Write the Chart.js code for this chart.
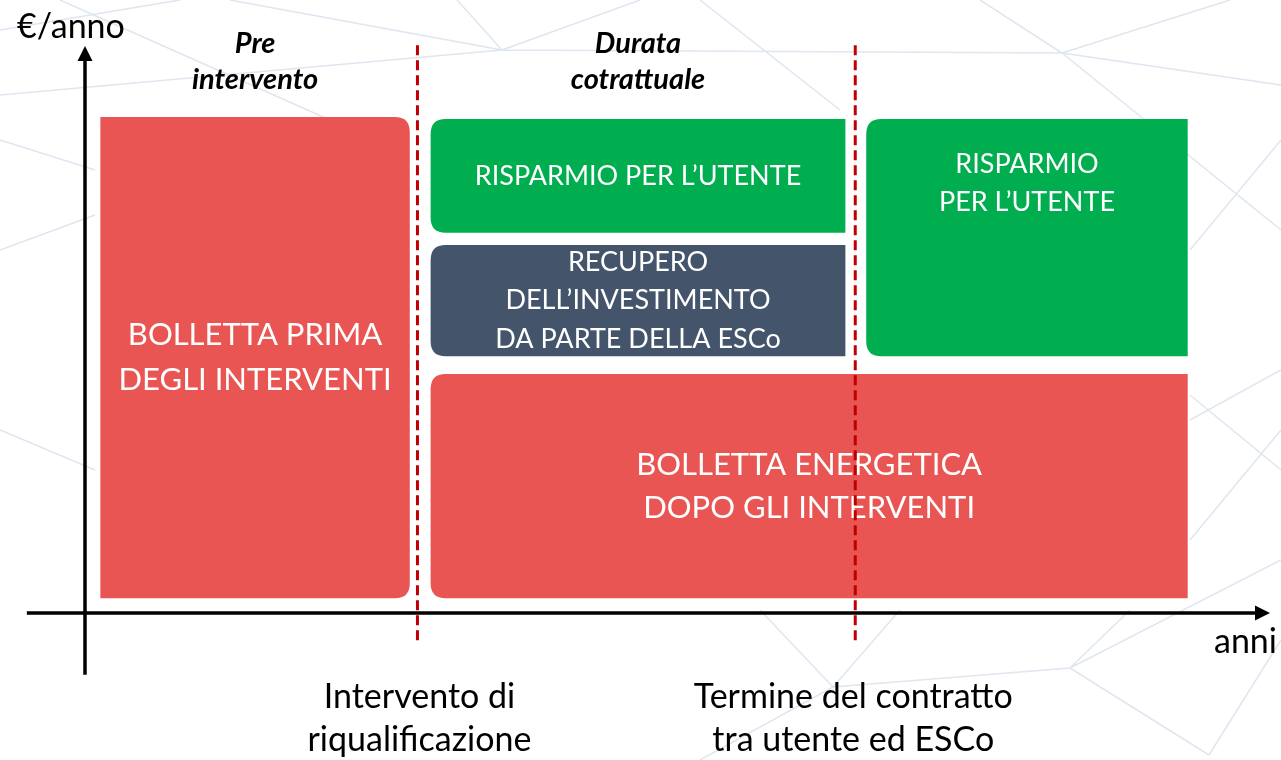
<!DOCTYPE html>
<html lang="it">
<head>
<meta charset="utf-8">
<title>Bolletta e risparmio con ESCo</title>
<script src="https://cdn.jsdelivr.net/npm/chart.js@4.4.0/dist/chart.umd.min.js"></script>
<style>
  html, body { margin: 0; padding: 0; background: #fff; }
  #grafico { display: block; }
</style>
</head>
<body>
<canvas id="grafico" width="1281" height="760"></canvas>
<script>
// Dati: asse x in anni, asse y in €/anno (scala indicativa, bolletta iniziale = 100)
const titoloY = '€/anno';
const titoloX = 'anni';
const maxAnni = 10.8;
const maxEuro = 115;

const eventi = [['Intervento di', 'riqualificazione'], ['Termine del contratto', 'tra utente ed ESCo']];
const anniEventi = [3.03, 7.02];

const periodi = [['Pre', 'intervento'], ['Durata', 'cotrattuale']];

const voci = [
    ['BOLLETTA PRIMA', 'DEGLI INTERVENTI'],
    ['RISPARMIO PER L’UTENTE'],
    ['RECUPERO', 'DELL’INVESTIMENTO', 'DA PARTE DELLA ESCo'],
    ['RISPARMIO', 'PER L’UTENTE'],
    ['BOLLETTA ENERGETICA', 'DOPO GLI INTERVENTI']
];
const inizio = [0.14, 3.15, 3.15, 7.12, 3.15];
const fine = [2.96, 6.93, 6.93, 10.05, 10.05];
const minimo = [3, 77, 52, 52, 3];
const massimo = [100.4, 100, 74.5, 100, 48.4];

// Stili
const rosso = '#E85552';
const verde = '#00AE50';
const blu = '#44546A';
const coloriVoci = [rosso, verde, blu, verde, rosso];
const raggio = 15;
const angoliVoci = [
    [0, raggio, raggio, 0],
    [raggio, 0, 0, raggio],
    [raggio, 0, 0, raggio],
    [raggio, 0, 0, raggio],
    [raggio, 0, 0, raggio]
];
const fontVoci = [31, 27, 27, 27, 31];
const interlineaVoci = [45, 38, 38.5, 38, 43];
const allineaVoci = ['center', 'center', 'center', 'top', 'center'];
const famiglia = 'Lato, "Open Sans", sans-serif';

// Sfondo decorativo a rete (solo ornamento)
const reteSfondo = [
    [0, 95, 502, 50], [502, 50, 457, 0], [502, 50, 640, 0], [502, 50, 1062, 53],
    [230, 0, 502, 50], [0, 30, 180, 0], [60, 0, 330, 120], [1062, 53, 1281, 85],
    [1062, 53, 980, 0], [1062, 53, 1230, 0], [1062, 53, 1281, 230], [700, 0, 840, 110],
    [1190, 250, 1281, 140], [1190, 420, 1281, 370], [1190, 540, 1281, 430], [1190, 395, 1281, 470],
    [833, 687, 1070, 668], [1070, 668, 1209, 755], [1070, 668, 1281, 560], [833, 687, 760, 610],
    [833, 687, 900, 610], [1209, 755, 1281, 640], [1070, 668, 1130, 610], [700, 760, 833, 687],
    [0, 250, 95, 215], [0, 430, 95, 470], [0, 140, 95, 170]
];

function rettangoloArrotondato(ctx, x, y, w, h, r) {
    const [tl, tr, br, bl] = r;
    ctx.beginPath();
    ctx.moveTo(x + tl, y);
    ctx.lineTo(x + w - tr, y);
    ctx.quadraticCurveTo(x + w, y, x + w, y + tr);
    ctx.lineTo(x + w, y + h - br);
    ctx.quadraticCurveTo(x + w, y + h, x + w - br, y + h);
    ctx.lineTo(x + bl, y + h);
    ctx.quadraticCurveTo(x, y + h, x, y + h - bl);
    ctx.lineTo(x, y + tl);
    ctx.quadraticCurveTo(x, y, x + tl, y);
    ctx.closePath();
}

function scriviRighe(ctx, righe, cx, cy, interlinea) {
    const y0 = cy - (righe.length - 1) * interlinea / 2;
    righe.forEach((riga, i) => ctx.fillText(riga, cx, y0 + i * interlinea));
}

// Rettangoli, assi ed etichette disegnati tramite le scale del grafico
const pluginSchema = {
    id: 'schema',
    beforeDraw(chart) {
        const ctx = chart.ctx;
        ctx.save();
        ctx.strokeStyle = 'rgba(196, 210, 228, 0.55)';
        ctx.lineWidth = 1.5;
        ctx.beginPath();
        reteSfondo.forEach(([a, b, c, d]) => {
            ctx.moveTo(a, b);
            ctx.lineTo(c, d);
        });
        ctx.stroke();
        ctx.restore();
    },
    beforeDatasetsDraw(chart) {
        const ctx = chart.ctx;
        const x = chart.scales.x;
        const y = chart.scales.y;
        ctx.save();

        // Rettangoli delle voci
        voci.forEach((righe, i) => {
            const x0 = x.getPixelForValue(inizio[i]);
            const x1 = x.getPixelForValue(fine[i]);
            const yTop = y.getPixelForValue(massimo[i]);
            const yBot = y.getPixelForValue(minimo[i]);
            ctx.fillStyle = coloriVoci[i];
            rettangoloArrotondato(ctx, x0, yTop, x1 - x0, yBot - yTop, angoliVoci[i]);
            ctx.fill();

            ctx.fillStyle = '#fff';
            ctx.font = fontVoci[i] + 'px ' + famiglia;
            ctx.textAlign = 'center';
            ctx.textBaseline = 'middle';
            const cx = (x0 + x1) / 2;
            if (allineaVoci[i] === 'top') {
                const cy = yTop + 45 + (righe.length - 1) * interlineaVoci[i] / 2;
                scriviRighe(ctx, righe, cx, cy, interlineaVoci[i]);
            } else {
                scriviRighe(ctx, righe, cx, (yTop + yBot) / 2, interlineaVoci[i]);
            }
        });

        // Assi con frecce
        const ox = x.getPixelForValue(0);
        const oy = y.getPixelForValue(0);
        ctx.strokeStyle = '#000';
        ctx.fillStyle = '#000';
        ctx.lineWidth = 3.5;
        ctx.beginPath();
        ctx.moveTo(ox, y.getPixelForValue(-12.5));
        ctx.lineTo(ox, chart.chartArea.top + 12);
        ctx.moveTo(x.getPixelForValue(-0.53), oy);
        ctx.lineTo(chart.chartArea.right - 12, oy);
        ctx.stroke();
        ctx.beginPath();
        ctx.moveTo(ox, chart.chartArea.top + 1);
        ctx.lineTo(ox - 7.5, chart.chartArea.top + 16);
        ctx.lineTo(ox + 7.5, chart.chartArea.top + 16);
        ctx.closePath();
        ctx.fill();
        ctx.beginPath();
        ctx.moveTo(chart.chartArea.right, oy);
        ctx.lineTo(chart.chartArea.right - 15, oy - 7.5);
        ctx.lineTo(chart.chartArea.right - 15, oy + 7.5);
        ctx.closePath();
        ctx.fill();

        // Titoli degli assi
        ctx.textBaseline = 'middle';
        ctx.font = '34px ' + famiglia;
        ctx.textAlign = 'left';
        ctx.fillText(titoloY, 17, 27);
        ctx.textAlign = 'right';
        ctx.fillText(titoloX, 1277, 642);

        // Periodi (sopra i rettangoli di riferimento)
        ctx.textAlign = 'center';
        ctx.font = 'italic bold 29px ' + famiglia;
        periodi.forEach((righe, i) => {
            const cx = (x.getPixelForValue(inizio[i]) + x.getPixelForValue(fine[i])) / 2;
            scriviRighe(ctx, righe, cx, 62, 36);
        });

        // Eventi (sotto le linee tratteggiate)
        ctx.font = '34px ' + famiglia;
        eventi.forEach((righe, i) => {
            scriviRighe(ctx, righe, x.getPixelForValue(anniEventi[i]) + (i === 0 ? 2 : -2), 719, 43);
        });
        ctx.restore();
    }
};

const datasetsEventi = anniEventi.map(anno => ({
    data: [{ x: anno, y: -5.5 }, { x: anno, y: maxEuro }],
    showLine: true,
    borderColor: '#C00000',
    borderWidth: 3,
    borderDash: [10, 5],
    pointRadius: 0,
    clip: false
}));

new Chart(document.getElementById('grafico'), {
    type: 'scatter',
    data: { datasets: datasetsEventi },
    options: {
        responsive: false,
        animation: false,
        layout: { padding: { top: 45, bottom: 147, left: 85, right: 11 } },
        scales: {
            x: { type: 'linear', min: 0, max: maxAnni, display: false },
            y: { type: 'linear', min: 0, max: maxEuro, display: false }
        },
        plugins: {
            legend: { display: false },
            tooltip: { enabled: false }
        }
    },
    plugins: [pluginSchema]
});
</script>
</body>
</html>
